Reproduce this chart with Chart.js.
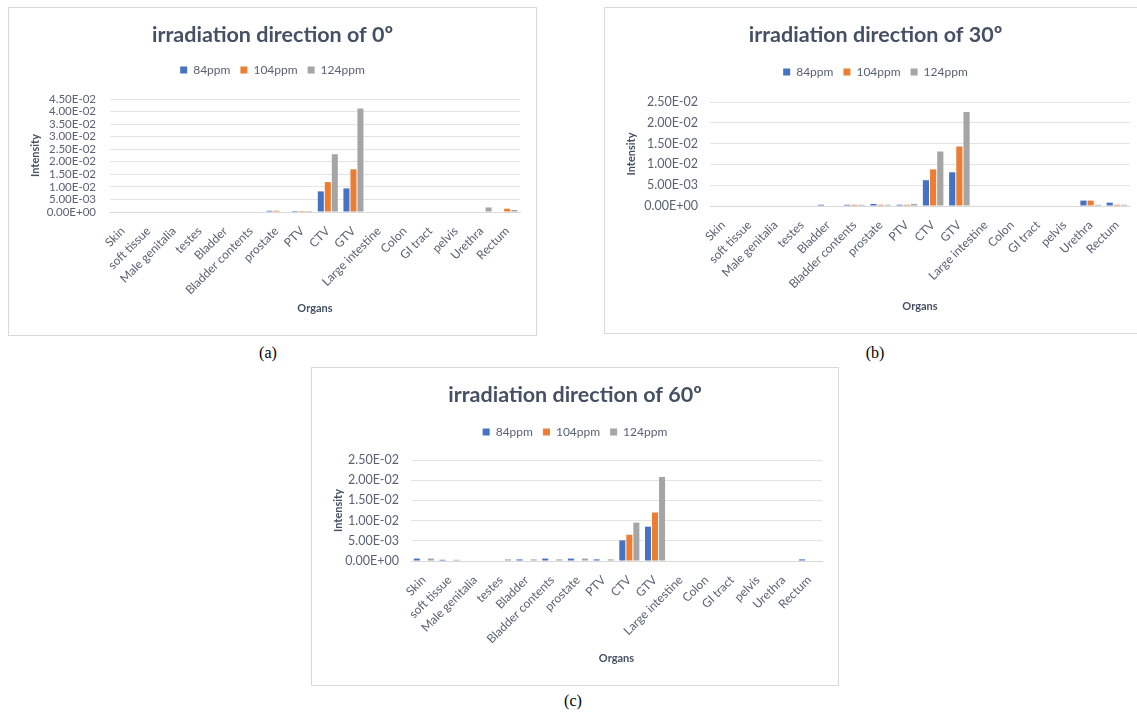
<!DOCTYPE html>
<html>
<head>
<meta charset="utf-8">
<script src="https://cdn.jsdelivr.net/npm/chart.js@4"></script>
<style>
    html, body { margin: 0; padding: 0; background: #fff; }
    body { width: 1137px; height: 715px; position: relative; overflow: hidden; }
    .panel { position: absolute; border: 1px solid #d9d9d9; box-sizing: border-box; background: #fff; }
    .caption { position: absolute; font-family: "Liberation Serif", serif; font-size: 16px; color: #000; transform: translate(-50%, -50%); }
</style>
</head>
<body>
<div class="panel" id="panelA" style="left:8px; top:7px; width:529px; height:329px;"><canvas id="chartA"></canvas></div>
<div class="panel" id="panelB" style="left:604px; top:7px; width:537px; height:327px;"><canvas id="chartB"></canvas></div>
<div class="panel" id="panelC" style="left:311px; top:367px; width:528px; height:319px;"><canvas id="chartC"></canvas></div>
<div class="caption" style="left:268px; top:353px;">(a)</div>
<div class="caption" style="left:875px; top:353px;">(b)</div>
<div class="caption" style="left:573px; top:701px;">(c)</div>

<script>
const organs = ["Skin", "soft tissue", "Male genitalia", "testes", "Bladder", "Bladder contents",
    "prostate", "PTV", "CTV", "GTV", "Large intestine", "Colon", "GI tract", "pelvis", "Urethra", "Rectum"];
const seriesNames = ["84ppm", "104ppm", "124ppm"];
const seriesColors = ["#4472C4", "#ED7D31", "#A5A5A5"];

// irradiation direction of 0º
const dir0_84 = [0, 0, 0, 0, 0, 0, 0.0005, 0.0004, 0.0082, 0.0094, 0, 0, 0, 0, 0, 0];
const dir0_104 = [0, 0, 0, 0, 0, 0, 0.0005, 0.0004, 0.0119, 0.0170, 0, 0, 0, 0, 0, 0.0013];
const dir0_124 = [0, 0, 0, 0, 0, 0, 0, 0.0004, 0.0230, 0.0412, 0, 0, 0, 0, 0.0018, 0.0008];

// irradiation direction of 30º
const dir30_84 = [0, 0, 0, 0, 0.0003, 0.0003, 0.0005, 0.0003, 0.0062, 0.0081, 0, 0, 0, 0, 0.0013, 0.0008];
const dir30_104 = [0, 0, 0, 0, 0, 0.0003, 0.0003, 0.0003, 0.0088, 0.0143, 0, 0, 0, 0, 0.0013, 0.0003];
const dir30_124 = [0, 0, 0, 0, 0, 0.0003, 0.0003, 0.0005, 0.0131, 0.0226, 0, 0, 0, 0, 0.0003, 0.0003];

// irradiation direction of 60º
const dir60_84 = [0.0006, 0.0003, 0, 0, 0.0004, 0.0006, 0.0006, 0.0004, 0.0051, 0.0085, 0, 0, 0, 0, 0, 0.0004];
const dir60_104 = [0, 0, 0, 0, 0, 0, 0, 0, 0.0065, 0.0120, 0, 0, 0, 0, 0, 0];
const dir60_124 = [0.0006, 0.0003, 0, 0.0004, 0.0004, 0.0004, 0.0006, 0.0004, 0.0095, 0.0208, 0, 0, 0, 0, 0, 0];

const yMaxA = 0.045, yMaxBC = 0.025, yStep = 0.005;

const FONT = "Lato, 'Open Sans', sans-serif";
const TITLE_COLOR = "#465064";
const TEXT_COLOR = "#5a6272";

function sci(v) {
    if (Math.abs(v) < 1e-12) return "0.00E+00";
    const parts = v.toExponential(2).split("e");
    const n = parseInt(parts[1], 10);
    return parts[0] + "E" + (n < 0 ? "-" : "+") + String(Math.abs(n)).padStart(2, "0");
}

// empty box between the legend and the plot, like the gap Excel leaves there
const legendGap = {
    id: "legendGap",
    beforeInit(chart, args, opts) {
        Chart.layouts.addBox(chart, {
            position: "top",
            weight: -100,
            fullSize: true,
            options: {},
            isHorizontal() { return true; },
            update(maxWidth) {
                this.width = maxWidth;
                this.height = opts.size || 0;
                return this.height;
            },
            getPadding() { return { left: 0, top: 0, right: 0, bottom: 0 }; },
            draw() {}
        });
    }
};

function makeChart(id, title, values, yMax, box) {
    const ctx = document.getElementById(id).getContext("2d");
    return new Chart(ctx, {
        type: "bar",
        plugins: [legendGap],
        data: {
            labels: organs,
            datasets: values.map((vals, i) => ({
                label: seriesNames[i],
                data: vals,
                backgroundColor: seriesColors[i],
                borderWidth: 0,
                categoryPercentage: 0.82,
                barPercentage: 0.86
            }))
        },
        options: {
            responsive: true,
            maintainAspectRatio: false,
            animation: false,
            layout: { padding: { left: 16, right: box.right, top: 0, bottom: 16 } },
            plugins: {
                legendGap: { size: box.gap },
                title: {
                    display: true,
                    text: title,
                    color: TITLE_COLOR,
                    font: { family: FONT, size: 21.5, weight: "bold" },
                    padding: { top: 14, bottom: box.titleGap }
                },
                legend: {
                    display: true,
                    labels: {
                        color: TEXT_COLOR,
                        font: { family: FONT, size: 12 },
                        boxWidth: 7,
                        boxHeight: 7,
                        padding: 10
                    }
                },
                tooltip: { enabled: false }
            },
            scales: {
                x: {
                    grid: { display: false },
                    border: { color: "#d9d9d9", width: 1 },
                    ticks: {
                        color: TEXT_COLOR,
                        font: { family: FONT, size: 12 },
                        autoSkip: false,
                        maxRotation: 45,
                        minRotation: 45,
                        padding: 4
                    },
                    title: {
                        display: true,
                        text: "Organs",
                        color: TITLE_COLOR,
                        font: { family: FONT, size: 11, weight: "bold" },
                        padding: { top: 4, bottom: 4 }
                    },
                    afterFit: function (scale) { scale.height = box.bottom - 16; }
                },
                y: {
                    min: 0,
                    max: yMax,
                    grid: { color: "#e3e3e3", lineWidth: 1, drawTicks: false },
                    border: { display: false },
                    ticks: {
                        stepSize: yStep,
                        autoSkip: false,
                        color: TEXT_COLOR,
                        font: { family: FONT, size: box.yFont },
                        padding: box.yPad,
                        callback: function (v) { return sci(v); }
                    },
                    title: {
                        display: true,
                        text: "Intensity",
                        color: TITLE_COLOR,
                        font: { family: FONT, size: 11, weight: "bold" },
                        padding: { top: 4, bottom: 4 }
                    },
                    afterFit: function (scale) {
                        scale.width = box.left - 16;
                        scale.paddingTop = box.top;
                    }
                }
            }
        }
    });
}

makeChart("chartA", "irradiation direction of 0º", [dir0_84, dir0_104, dir0_124], yMaxA,
    { left: 101, right: 16, top: 91, bottom: 123, titleGap: 6, gap: 13, yFont: 11.5, yPad: 14 });
makeChart("chartB", "irradiation direction of 30º", [dir30_84, dir30_104, dir30_124], yMaxBC,
    { left: 105, right: 10, top: 94, bottom: 127, titleGap: 8, gap: 14, yFont: 12.5, yPad: 12 });
makeChart("chartC", "irradiation direction of 60º", [dir60_84, dir60_104, dir60_124], yMaxBC,
    { left: 99, right: 16, top: 92, bottom: 124, titleGap: 8, gap: 12, yFont: 12.5, yPad: 12 });
</script>
</body>
</html>
